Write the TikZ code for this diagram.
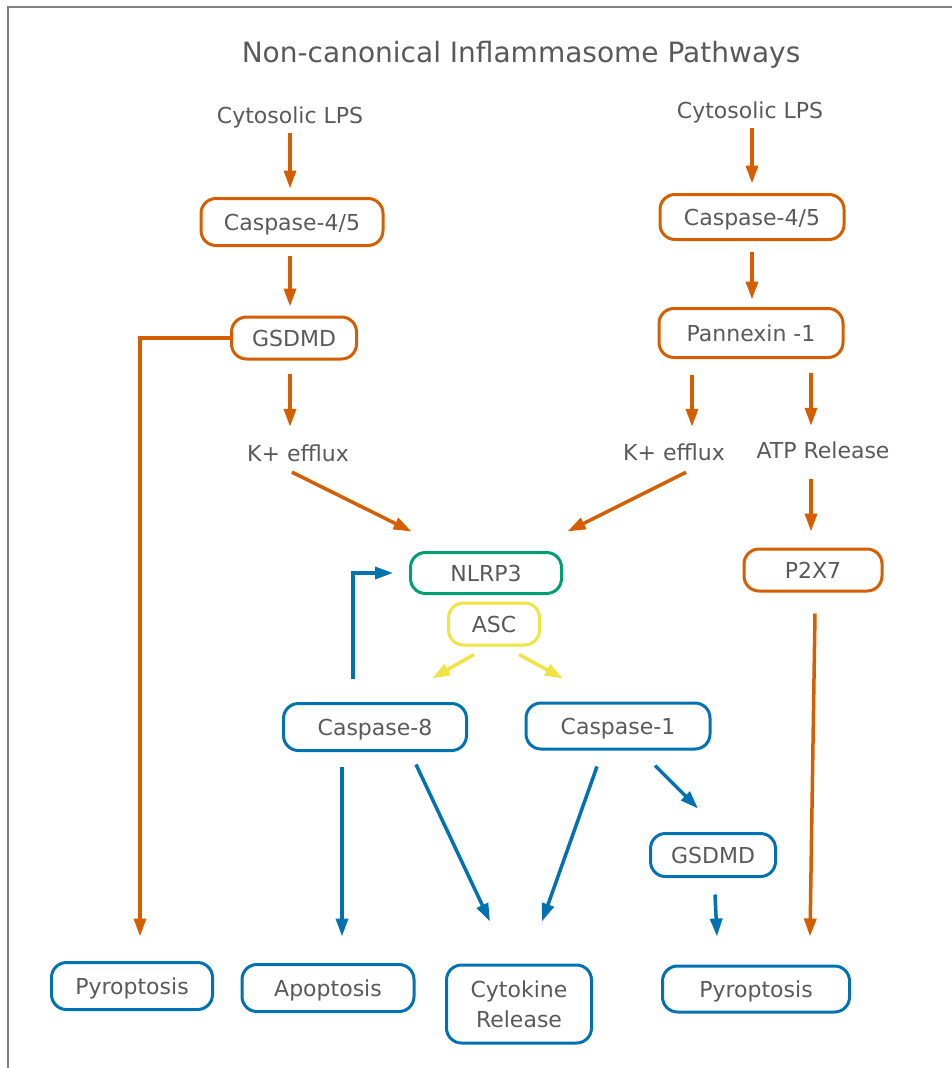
\documentclass[tikz,border=0pt]{standalone}
\usepackage{fontspec}
\setmainfont{DejaVu Sans}
\usetikzlibrary{arrows.meta,positioning}
\definecolor{pworange}{HTML}{D55E00}
\definecolor{pwgreen}{HTML}{009E73}
\definecolor{pwyellow}{HTML}{F0E442}
\definecolor{pwblue}{HTML}{0072B2}
\definecolor{pwtext}{HTML}{595959}
\definecolor{pwframe}{HTML}{808080}

\tikzset{
  txt/.style={text=pwtext, font=\fontsize{22}{30}\selectfont, inner sep=0pt},
  lbl/.style={txt, text height=18.5pt, text depth=2.5pt},
  pbox/.style={lbl, draw=#1, line width=3pt, rounded corners=15pt},
  link/.style={draw=#1, line width=3.5pt, -{Triangle[length=18pt,width=12pt]}},
}

\begin{document}
\begin{tikzpicture}[x=1pt,y=-1pt]
  \useasboundingbox (0,0) rectangle (952,1068);
  % frame
  \draw[pwframe,line width=1.5pt] (8,1068) -- (8,7) -- (952,7);
  \node[txt, font=\fontsize{28}{32}\selectfont, text height=20.5pt, text depth=0pt] (title) at (521,52) {Non-canonical Inflammasome Pathways};
  %
  % Left branch
  \node[lbl] (lpsL) at (290,115) {Cytosolic LPS};
  \node[pbox=pworange, minimum width=182pt, minimum height=47pt] (c45L) at (292,222) {Caspase-4/5};
  \node[pbox=pworange, minimum width=125pt, minimum height=42pt] (gsdL) at (294,338) {GSDMD};
  \node[lbl] (kL) at (298,453) {K+ efflux};
  %
  % Right branch
  \node[lbl] (lpsR) at (750,110) {Cytosolic LPS};
  \node[pbox=pworange, minimum width=184pt, minimum height=45pt] (c45R) at (752,217) {Caspase-4/5};
  \node[pbox=pworange, minimum width=184pt, minimum height=49pt] (panx) at (751,333) {Pannexin -1};
  \node[lbl] (kR) at (674,452) {K+ efflux};
  \node[lbl] (atp) at (823,450) {ATP Release};
  \node[pbox=pworange, minimum width=138pt, minimum height=42pt] (p2x7) at (813,570) {P2X7};
  %
  % Inflammasome
  \node[pbox=pwgreen, minimum width=151pt, minimum height=41pt] (nlrp) at (486,573) {NLRP3};
  \node[pbox=pwyellow, minimum width=91pt, minimum height=42pt] (asc) at (494,624) {ASC};
  \node[pbox=pwblue, minimum width=183pt, minimum height=47pt] (c8) at (375,727) {Caspase-8};
  \node[pbox=pwblue, minimum width=184pt, minimum height=46pt] (c1) at (618,726) {Caspase-1};
  \node[pbox=pwblue, minimum width=125pt, minimum height=43pt] (gsdB) at (713,855) {GSDMD};
  %
  % Outcomes
  \node[pbox=pwblue, minimum width=161pt, minimum height=47pt] (pyroL) at (132,986) {Pyroptosis};
  \node[pbox=pwblue, minimum width=172pt, minimum height=47pt] (apop) at (328,988) {Apoptosis};
  \node[pbox=pwblue, minimum width=145pt, minimum height=78pt, text height=, text depth=, align=center] (cyto) at (519,1004) {Cytokine\\Release};
  \node[pbox=pwblue, minimum width=187pt, minimum height=46pt] (pyroR) at (756,989) {Pyroptosis};
  %
  % orange links
  \draw[link=pworange] ([yshift=-7.5pt]lpsL.south) -- ([xshift=-2pt,yshift=8.5pt]c45L.north);
  \draw[link=pworange] ([xshift=-2pt,yshift=-8.5pt]c45L.south) -- ([xshift=-4pt,yshift=9pt]gsdL.north);
  \draw[link=pworange] ([xshift=-4pt,yshift=-13pt]gsdL.south) -- ([xshift=-8pt,yshift=15.5pt]kL.north);
  \draw[link=pworange] ([xshift=-6pt,yshift=-8.5pt]kL.south) -- ([xshift=2.5pt,yshift=19.5pt]nlrp.north west);
  \draw[link=pworange] (gsdL.west) -| ([xshift=8pt,yshift=24.5pt]pyroL.north);
  \draw[link=pworange] ([xshift=2pt,yshift=-7.5pt]lpsR.south) -- ([yshift=9.5pt]c45R.north);
  \draw[link=pworange] ([yshift=-10.5pt]c45R.south) -- ([xshift=1pt,yshift=7.5pt]panx.north);
  \draw[link=pworange] ([xshift=-59pt,yshift=-15.5pt]panx.south) -- ([xshift=18pt,yshift=14.5pt]kR.north);
  \draw[link=pworange] ([xshift=60pt,yshift=-13.5pt]panx.south) -- ([xshift=-12pt,yshift=13.5pt]atp.north);
  \draw[link=pworange] ([xshift=12pt,yshift=-9.5pt]kR.south) -- ([xshift=4.5pt,yshift=19.5pt]nlrp.north east);
  \draw[link=pworange] ([xshift=-12pt,yshift=-18.5pt]atp.south) -- ([xshift=-2pt,yshift=16pt]p2x7.north);
  \draw[link=pworange] ([xshift=2pt,yshift=-21pt]p2x7.south) -- ([xshift=54pt,yshift=28pt]pyroR.north);
  %
  % yellow links
  \draw[link=pwyellow] ([xshift=-20pt,yshift=-8pt]asc.south) -- ([xshift=57pt,yshift=23.5pt]c8.north);
  \draw[link=pwyellow] ([xshift=25pt,yshift=-8pt]asc.south) -- ([xshift=-55pt,yshift=23pt]c1.north);
  %
  % blue links
  \draw[link=pwblue] ([xshift=-22pt,yshift=23.5pt]c8.north) |- ([xshift=-16pt]nlrp.west);
  \draw[link=pwblue] ([xshift=-33pt,yshift=-14.5pt]c8.south) -- ([xshift=14pt,yshift=26.5pt]apop.north);
  \draw[link=pwblue] ([xshift=41pt,yshift=-12.5pt]c8.south) -- ([xshift=-29pt,yshift=42pt]cyto.north);
  \draw[link=pwblue] ([xshift=-21pt,yshift=-16pt]c1.south) -- ([xshift=23pt,yshift=42pt]cyto.north);
  \draw[link=pwblue] ([xshift=37pt,yshift=-15pt]c1.south) -- ([xshift=-15pt,yshift=23.5pt]gsdB.north);
  \draw[link=pwblue] ([xshift=2pt,yshift=-16.5pt]gsdB.south) -- ([xshift=-39pt,yshift=28pt]pyroR.north);
\end{tikzpicture}
\end{document}
